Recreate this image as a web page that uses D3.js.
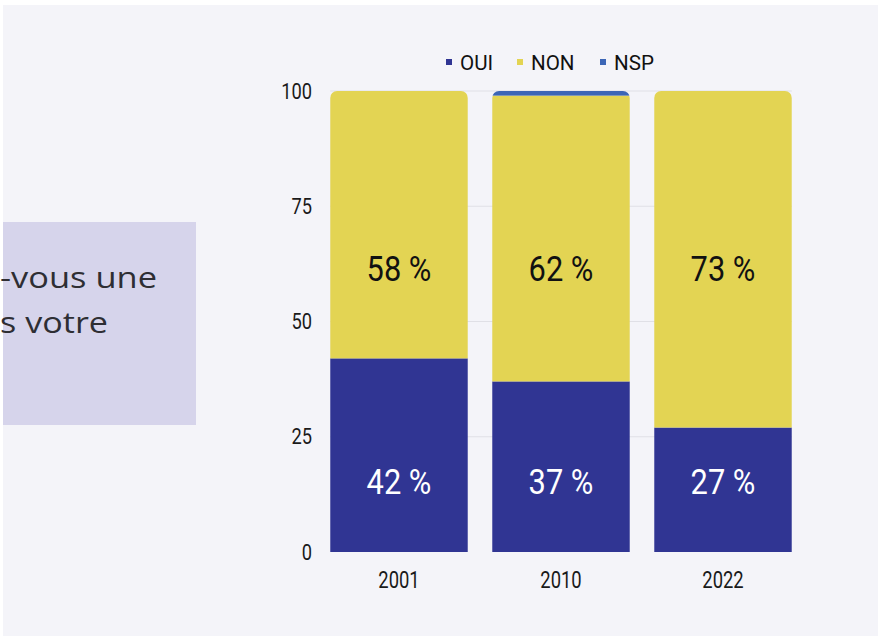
<!DOCTYPE html>
<html>
<head>
<meta charset="utf-8">
<script src="https://cdn.jsdelivr.net/npm/d3@7"></script>
<style>
  body { margin: 0; background: #fff; }
  svg { display: block; }
</style>
</head>
<body>
<div id="chart-area"></div>
<script>
// data
var years = ["2001", "2010", "2022"];
var keys = ["OUI", "NON", "NSP"];
var oui = [42, 37, 27];
var non = [58, 62, 73];
var nsp = [0, 1, 0];
var yTicks = [0, 25, 50, 75, 100];
var colors = { OUI: "#303593", NON: "#e3d453", NSP: "#3c66b6" };

var W = 879, H = 638;
var font = "Roboto, 'DejaVu Sans', sans-serif";

// squeeze text horizontally to mimic a condensed face
function condense(sel, f) {
	sel.each(function() {
		var len = this.getComputedTextLength();
		d3.select(this)
			.attr("textLength", len * f)
			.attr("lengthAdjust", "spacingAndGlyphs");
	});
}

var rows = years.map(function(y, i) {
	return { year: y, OUI: oui[i], NON: non[i], NSP: nsp[i] };
});

var svg = d3.select("#chart-area")
	.append("svg")
		.attr("width", W)
		.attr("height", H);

// panel background
svg.append("rect")
	.attr("x", 3).attr("y", 5)
	.attr("width", W - 4).attr("height", H - 7)
	.attr("fill", "#f4f4f9");

// left question box (cut off)
svg.append("rect")
	.attr("x", 3).attr("y", 222)
	.attr("width", 193).attr("height", 203)
	.attr("fill", "#d6d4eb");

var qText = ["-vous une", "s votre"];
var qWidth = [157, 108];
svg.selectAll(".q")
	.data(qText)
	.enter().append("text")
	.attr("class", "q")
	.attr("x", 0)
	.attr("y", function(d, i) { return 288 + i * 45; })
	.attr("font-family", "'Open Sans', sans-serif")
	.attr("font-size", "29px")
	.attr("fill", "#2e2e33")
	.attr("textLength", function(d, i) { return qWidth[i]; })
	.attr("lengthAdjust", "spacingAndGlyphs")
	.text(function(d) { return d; });

var x = d3.scaleBand()
	.domain(years)
	.range([318, 804])
	.paddingInner(0.15)
	.paddingOuter(0.075);

var y = d3.scaleLinear()
	.domain([0, 100])
	.range([552, 91]);

// gridlines
svg.append("g")
	.selectAll("line")
	.data(yTicks.slice(1))
	.enter().append("line")
	.attr("x1", x(years[0]))
	.attr("x2", x(years[2]) + x.bandwidth())
	.attr("y1", function(d) { return y(d); })
	.attr("y2", function(d) { return y(d); })
	.attr("stroke", "#e0e0e6")
	.attr("stroke-width", 1);

// y axis
var yAxis = svg.append("g")
	.attr("transform", "translate(312,0)")
	.call(d3.axisLeft(y).tickValues(yTicks).tickSize(0).tickPadding(0));
yAxis.select(".domain").remove();
yAxis.selectAll("text")
	.attr("font-family", font)
	.attr("font-size", "22px")
	.attr("fill", "#1a1a1a")
	.call(condense, 0.83);

// x axis
var xAxis = svg.append("g")
	.attr("transform", "translate(0," + y(0) + ")")
	.call(d3.axisBottom(x).tickSize(0).tickPadding(20));
xAxis.select(".domain").remove();
xAxis.selectAll("text")
	.attr("font-family", font)
	.attr("font-size", "23px")
	.attr("fill", "#1a1a1a")
	.call(condense, 0.8);

// clip paths for rounded tops
var defs = svg.append("defs");
years.forEach(function(yr, i) {
	defs.append("clipPath")
		.attr("id", "clip" + i)
		.append("rect")
		.attr("x", x(yr))
		.attr("y", y(100))
		.attr("width", x.bandwidth())
		.attr("height", y(0) - y(100) + 20)
		.attr("rx", 7);
});

var stack = d3.stack().keys(keys)(rows);

var bars = svg.append("g");
years.forEach(function(yr, i) {
	var gBar = bars.append("g").attr("clip-path", "url(#clip" + i + ")");
	stack.forEach(function(layer) {
		var seg = layer[i];
		if (seg[1] - seg[0] <= 0) return;
		gBar.append("rect")
			.attr("x", x(yr))
			.attr("y", y(seg[1]))
			.attr("width", x.bandwidth())
			.attr("height", y(seg[0]) - y(seg[1]))
			.attr("fill", colors[layer.key]);
	});
});

// value labels
var labelPos = { OUI: 15.3, NON: 61.5 };
["OUI", "NON"].forEach(function(k) {
	svg.append("g")
		.selectAll("text")
		.data(rows)
		.enter().append("text")
		.attr("x", function(d) { return x(d.year) + x.bandwidth() / 2; })
		.attr("y", y(labelPos[k]))
		.attr("dy", "0.36em")
		.attr("text-anchor", "middle")
		.attr("font-family", font)
		.attr("font-size", "35px")
		.attr("fill", k === "OUI" ? "#ffffff" : "#111111")
		.text(function(d) { return d[k] + " %"; })
		.call(condense, 0.88);
});

// legend
var legendX = [446, 517, 600];
var legend = svg.append("g");
keys.forEach(function(k, i) {
	var row = legend.append("g")
		.attr("transform", "translate(" + legendX[i] + ",62)");
	row.append("rect")
		.attr("x", 0).attr("y", -3)
		.attr("width", 6).attr("height", 6)
		.attr("fill", colors[k]);
	row.append("text")
		.attr("x", 14)
		.attr("dy", "0.36em")
		.attr("font-family", font)
		.attr("font-size", "21px")
		.attr("fill", "#111")
		.text(k)
		.call(condense, 0.98);
});
</script>
</body>
</html>
